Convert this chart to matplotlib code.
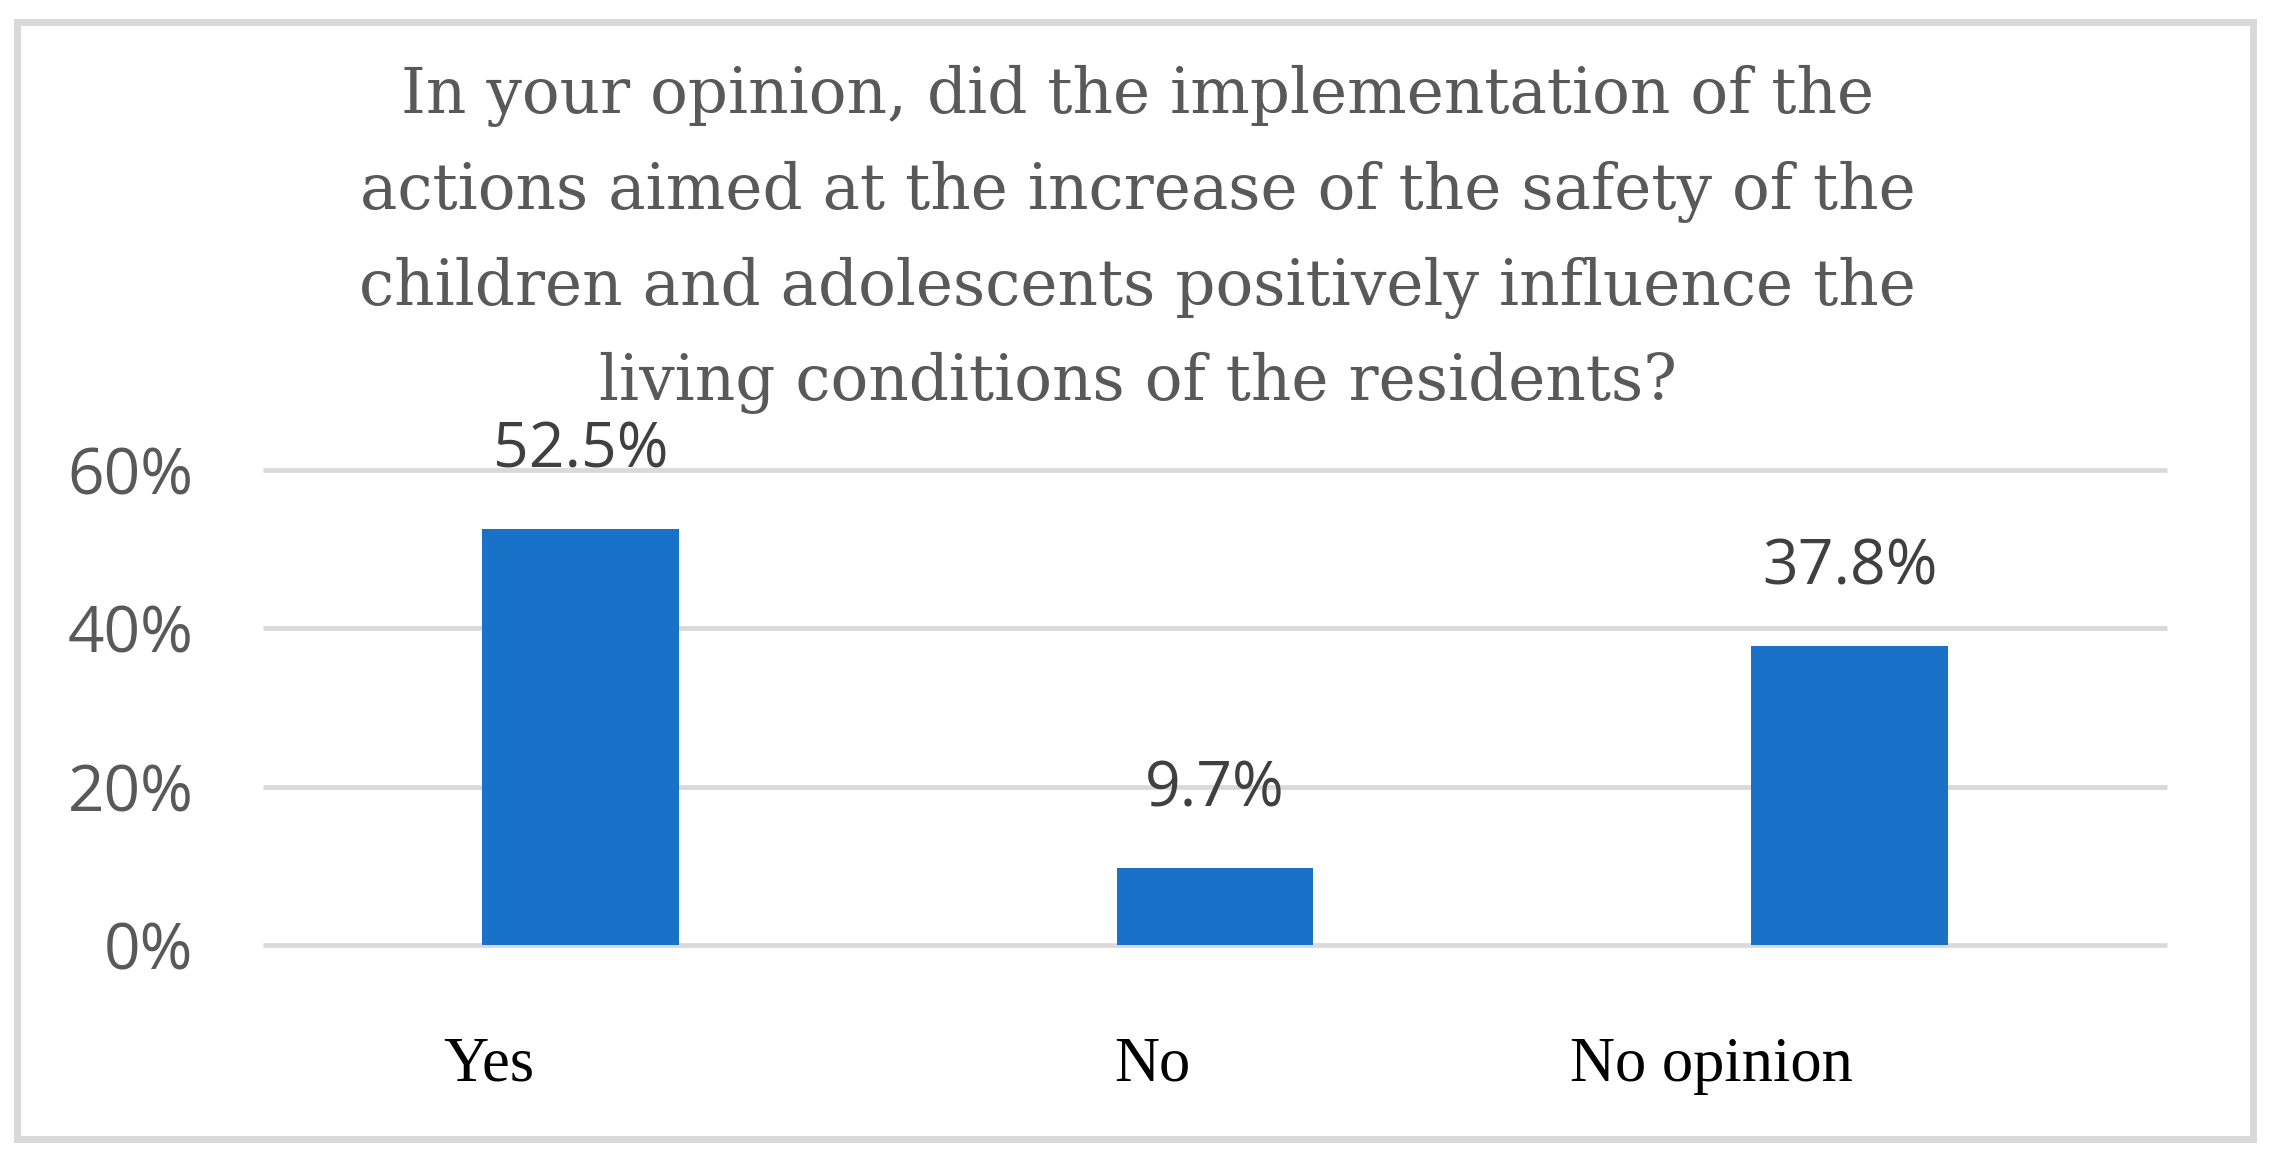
import matplotlib
matplotlib.use("Agg")
import matplotlib.pyplot as plt
from matplotlib.patches import Rectangle

categories = ["Yes", "No", "No opinion"]
values = [52.5, 9.7, 37.8]
value_labels = ["52.5%", "9.7%", "37.8%"]
yticks = [0, 20, 40, 60]
ytick_labels = ["0%", "20%", "40%", "60%"]
title_lines = [
    "In your opinion, did the implementation of the",
    "actions aimed at the increase of the safety of the",
    "children and adolescents positively influence the",
    "living conditions of the residents?",
]

W, H = 2275, 1168
DPI = 100
fig = plt.figure(figsize=(W / DPI, H / DPI), dpi=DPI)
fig.patch.set_facecolor("white")

def fx(px):
    return px / W

def fy(py):
    return 1 - py / H

# axes placement (pixels): left 263, right 2167, 0% at y=945, 60% at y=470
ax = fig.add_axes([fx(263), fy(945), (2167 - 263) / W, (945 - 470) / H])
ax.set_xlim(-0.5, 2.5)
ax.set_ylim(0, 60)
for s in ax.spines.values():
    s.set_visible(False)
ax.set_yticks(yticks)
ax.set_yticklabels(ytick_labels, fontfamily="Open Sans", fontsize=46, color="#595959")
ax.tick_params(axis="y", length=0, pad=50)
ax.set_xticks([])
ax.yaxis.grid(True, color="#d9d9d9", linewidth=3.4)
ax.set_axisbelow(True)
for g in ax.yaxis.get_gridlines():
    g.set_clip_on(False)
    g.set_solid_capstyle("butt")

x = list(range(len(categories)))
ax.bar(x, values, width=0.31, color="#1a72c8", zorder=3)
for xi, v, lab in zip(x, values, value_labels):
    ax.annotate(lab, (xi, v), xytext=(0, 56), textcoords="offset points",
                ha="center", va="center", fontfamily="Open Sans", fontsize=45,
                color="#404040", annotation_clip=False)

# category labels (offset left of bar centres, as in the reference)
cat_offsets_px = [-92, -63, -138]
for xi, lab, off in zip(x, categories, cat_offsets_px):
    ax.annotate(lab, (xi, 0), xytext=(off * 0.72, -87), textcoords="offset points",
                ha="center", va="center", fontfamily="Liberation Serif", fontsize=45,
                color="black", annotation_clip=False)

# title lines, fit to measured width
baselines = [113, 209, 305, 400]
texts = []
for line, b in zip(title_lines, baselines):
    t = fig.text(0.5, fy(b), line, ha="center", va="baseline",
                 fontfamily="DejaVu Serif", fontsize=50, color="#595959")
    texts.append(t)
fig.canvas.draw()
r = fig.canvas.get_renderer()
w3 = texts[2].get_window_extent(r).width
scale = 1559 / w3
for t in texts:
    t.set_fontsize(50 * scale)

# outer border
bw = 7
fig.patches.append(Rectangle((fx(16.5), fy(1138.5)), fx(2252.5 - 16.5), (1138.5 - 21.5) / H,
                             transform=fig.transFigure, fill=False,
                             edgecolor="#d9d9d9", linewidth=bw * 72 / DPI))

fig.savefig("out.png", dpi=DPI, facecolor="white")
